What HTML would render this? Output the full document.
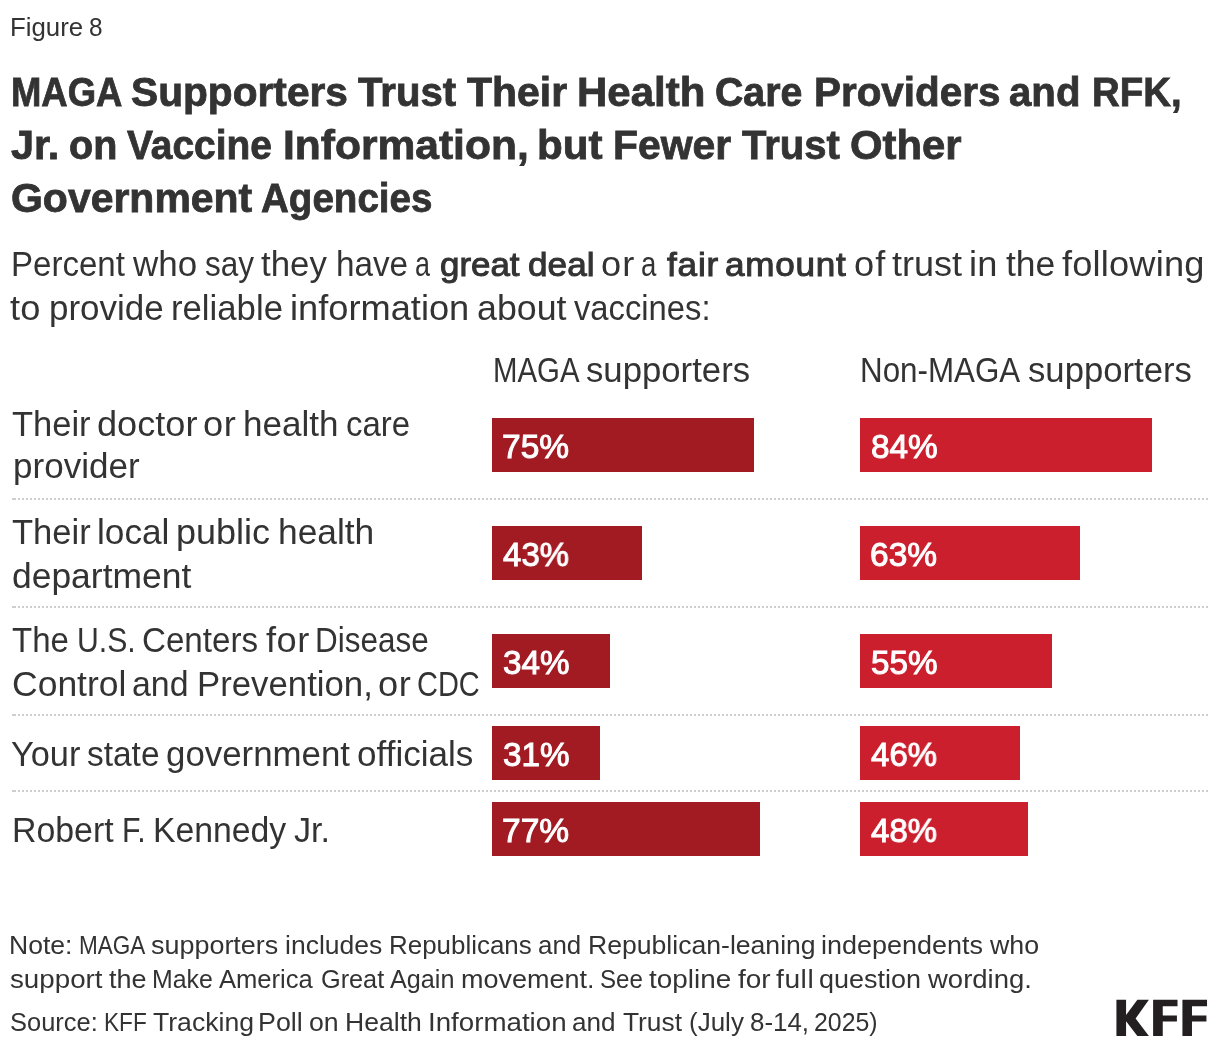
<!DOCTYPE html>
<html><head><meta charset="utf-8"><title>Figure 8</title>
<style>
html,body{margin:0;padding:0;background:#fff}
body{width:1220px;height:1050px;position:relative;overflow:hidden;font-family:"Liberation Sans",sans-serif;color:#333}
.l{position:absolute;left:0;width:1220px;height:0;line-height:0;white-space:nowrap;will-change:transform}
.l span{position:absolute;top:0;display:block;line-height:0;white-space:nowrap;transform-origin:0 0}
.w{color:#fff}
.b7{font-weight:700;-webkit-text-stroke:0.8px currentColor}
.b6{-webkit-text-stroke:1.0px currentColor}
.b{position:absolute;height:54px}
.s{position:absolute;left:12px;width:1196px;height:2px;background:linear-gradient(#cecece,#cecece) 0 0/2px 2px no-repeat,repeating-linear-gradient(90deg,#cecece 0,#cecece 2px,transparent 2px,transparent 4px) 2px 0}
.logo{position:absolute;left:0;top:0}
</style></head><body>
<div class="b" style="left:492px;top:418px;width:262px;background:#a21a22"></div>
<div class="b" style="left:860px;top:418px;width:292px;background:#cb1f2d"></div>
<div class="b" style="left:492px;top:526px;width:150px;background:#a21a22"></div>
<div class="b" style="left:860px;top:526px;width:220px;background:#cb1f2d"></div>
<div class="b" style="left:492px;top:634px;width:118px;background:#a21a22"></div>
<div class="b" style="left:860px;top:634px;width:192px;background:#cb1f2d"></div>
<div class="b" style="left:492px;top:726px;width:108px;background:#a21a22"></div>
<div class="b" style="left:860px;top:726px;width:160px;background:#cb1f2d"></div>
<div class="b" style="left:492px;top:802px;width:268px;background:#a21a22"></div>
<div class="b" style="left:860px;top:802px;width:168px;background:#cb1f2d"></div>
<div class="s" style="top:498px"></div>
<div class="s" style="top:606px"></div>
<div class="s" style="top:714px"></div>
<div class="s" style="top:790px"></div>
<div class="l" style="top:26.90px;font-size:26.6px"><span style="left:10.02px;transform:scaleX(0.9708)">Figure</span> <span style="left:89.41px;transform:scaleX(0.9154)">8</span></div>
<div class="l" style="top:91.90px;font-size:41.8px"><span style="left:11.04px;transform:scaleX(0.8942);font-size:40.75px" class="b7">MAGA</span> <span style="left:131.16px;transform:scaleX(0.9981);font-size:40.75px" class="b7">Supporters</span> <span style="left:357.50px;transform:scaleX(0.9849);font-size:40.75px" class="b7">Trust</span> <span style="left:466.50px;transform:scaleX(1.0045);font-size:40.75px" class="b7">Their</span> <span style="left:577.06px;transform:scaleX(1.0301);font-size:40.75px" class="b7">Health</span> <span style="left:715.42px;transform:scaleX(0.9640);font-size:40.75px" class="b7">Care</span> <span style="left:813.52px;transform:scaleX(0.9918);font-size:40.75px" class="b7">Providers</span> <span style="left:1009.45px;transform:scaleX(0.9863);font-size:40.75px" class="b7">and</span> <span style="left:1091.88px;transform:scaleX(0.9420);font-size:40.75px" class="b7">RFK,</span></div>
<div class="l" style="top:144.85px;font-size:41.8px"><span style="left:10.93px;transform:scaleX(1.0165);font-size:40.75px" class="b7">Jr.</span> <span style="left:68.79px;transform:scaleX(0.9710);font-size:40.75px" class="b7">on</span> <span style="left:126.68px;transform:scaleX(0.9551);font-size:40.75px" class="b7">Vaccine</span> <span style="left:282.53px;transform:scaleX(1.0436);font-size:40.75px" class="b7">Information,</span> <span style="left:536.86px;transform:scaleX(1.0344);font-size:40.75px" class="b7">but</span> <span style="left:613.49px;transform:scaleX(1.0030);font-size:40.75px" class="b7">Fewer</span> <span style="left:741.81px;transform:scaleX(0.9827);font-size:40.75px" class="b7">Trust</span> <span style="left:850.28px;transform:scaleX(1.0268);font-size:40.75px" class="b7">Other</span></div>
<div class="l" style="top:197.80px;font-size:41.8px"><span style="left:10.74px;transform:scaleX(1.0051);font-size:40.75px" class="b7">Government</span> <span style="left:261.21px;transform:scaleX(0.9464);font-size:40.75px" class="b7">Agencies</span></div>
<div class="l" style="top:263.90px;font-size:34.2px"><span style="left:10.95px;transform:scaleX(0.9670)">Percent</span> <span style="left:132.85px;transform:scaleX(1.0214)">who</span> <span style="left:204.70px;transform:scaleX(0.9218)">say</span> <span style="left:261.49px;transform:scaleX(1.0184)">they</span> <span style="left:335.69px;transform:scaleX(0.9723)">have</span> <span style="left:415.22px;transform:scaleX(0.7885)">a</span> <span style="left:440.18px;transform:scaleX(1.0536);top:1px;font-size:33.11px" class="b6">great</span> <span style="left:527.90px;transform:scaleX(1.0600);top:1px;letter-spacing:0.10px;font-size:33.11px" class="b6">deal</span> <span style="left:601.22px;transform:scaleX(1.0600);letter-spacing:1.01px">or</span> <span style="left:640.94px;transform:scaleX(0.8070)">a</span> <span style="left:666.80px;transform:scaleX(1.0600);top:1px;letter-spacing:0.77px;font-size:33.11px" class="b6">fair</span> <span style="left:725.27px;transform:scaleX(1.0600);top:1px;letter-spacing:0.69px;font-size:33.11px" class="b6">amount</span> <span style="left:854.01px;transform:scaleX(1.0600);letter-spacing:1.12px">of</span> <span style="left:892.15px;transform:scaleX(1.0546)">trust</span> <span style="left:969.43px;transform:scaleX(1.0600);letter-spacing:0.20px">in</span> <span style="left:1005.98px;transform:scaleX(1.0368)">the</span> <span style="left:1062.28px;transform:scaleX(1.0600);letter-spacing:0.16px">following</span></div>
<div class="l" style="top:307.80px;font-size:34.2px"><span style="left:10.22px;transform:scaleX(1.0600);letter-spacing:0.24px">to</span> <span style="left:48.76px;transform:scaleX(1.0235)">provide</span> <span style="left:171.00px;transform:scaleX(1.0156)">reliable</span> <span style="left:290.03px;transform:scaleX(1.0599)">information</span> <span style="left:477.16px;transform:scaleX(1.0457)">about</span> <span style="left:573.77px;transform:scaleX(0.9579)">vaccines:</span></div>
<div class="l" style="top:369.70px;font-size:34.2px"><span style="left:492.70px;transform:scaleX(0.8589)">MAGA</span> <span style="left:586.47px;transform:scaleX(1.0158)">supporters</span></div>
<div class="l" style="top:369.70px;font-size:34.2px"><span style="left:860.32px;transform:scaleX(0.9167)">Non-MAGA</span> <span style="left:1027.97px;transform:scaleX(1.0147)">supporters</span></div>
<div class="l" style="top:423.80px;font-size:34.2px"><span style="left:12.32px;transform:scaleX(1.0088)">Their</span> <span style="left:96.88px;transform:scaleX(1.0572)">doctor</span> <span style="left:203.41px;transform:scaleX(1.0600);letter-spacing:0.58px">or</span> <span style="left:242.69px;transform:scaleX(1.0247)">health</span> <span style="left:346.24px;transform:scaleX(0.9636)">care</span></div>
<div class="l" style="top:465.70px;font-size:34.2px"><span style="left:12.69px;transform:scaleX(1.0248)">provider</span></div>
<div class="l" style="top:531.80px;font-size:34.2px"><span style="left:12.13px;transform:scaleX(1.0096)">Their</span> <span style="left:97.27px;transform:scaleX(1.0301)">local</span> <span style="left:176.19px;transform:scaleX(1.0532)">public</span> <span style="left:277.61px;transform:scaleX(1.0331)">health</span></div>
<div class="l" style="top:575.80px;font-size:34.2px"><span style="left:12.20px;transform:scaleX(1.0365)">department</span></div>
<div class="l" style="top:639.80px;font-size:34.2px"><span style="left:12.23px;transform:scaleX(0.9648)">The</span> <span style="left:76.78px;transform:scaleX(0.8830)">U.S.</span> <span style="left:142.49px;transform:scaleX(0.9695)">Centers</span> <span style="left:265.60px;transform:scaleX(1.0600);letter-spacing:0.48px">for</span> <span style="left:315.28px;transform:scaleX(0.9203)">Disease</span></div>
<div class="l" style="top:683.80px;font-size:34.2px"><span style="left:11.72px;transform:scaleX(1.0383)">Control</span> <span style="left:132.31px;transform:scaleX(0.9900)">and</span> <span style="left:196.84px;transform:scaleX(1.0167)">Prevention,</span> <span style="left:378.32px;transform:scaleX(1.0600);letter-spacing:0.59px">or</span> <span style="left:417.20px;transform:scaleX(0.8477)">CDC</span></div>
<div class="l" style="top:753.70px;font-size:34.2px"><span style="left:11.35px;transform:scaleX(1.0049)">Your</span> <span style="left:86.66px;transform:scaleX(0.9782)">state</span> <span style="left:166.22px;transform:scaleX(1.0194)">government</span> <span style="left:357.40px;transform:scaleX(1.0265)">officials</span></div>
<div class="l" style="top:829.70px;font-size:34.2px"><span style="left:12.21px;transform:scaleX(0.9905)">Robert</span> <span style="left:121.56px;transform:scaleX(0.8884)">F.</span> <span style="left:152.60px;transform:scaleX(0.9870)">Kennedy</span> <span style="left:294.11px;transform:scaleX(0.9992)">Jr.</span></div>
<div class="l" style="top:944.80px;font-size:26.6px"><span style="left:9.44px;transform:scaleX(0.9985)">Note:</span> <span style="left:78.97px;transform:scaleX(0.8463)">MAGA</span> <span style="left:151.17px;transform:scaleX(1.0128)">supporters</span> <span style="left:284.92px;transform:scaleX(0.9969)">includes</span> <span style="left:388.54px;transform:scaleX(0.9750)">Republicans</span> <span style="left:537.91px;transform:scaleX(0.9737)">and</span> <span style="left:588.44px;transform:scaleX(0.9998)">Republican-leaning</span> <span style="left:820.85px;transform:scaleX(1.0137)">independents</span> <span style="left:989.75px;transform:scaleX(1.0079)">who</span></div>
<div class="l" style="top:978.60px;font-size:26.6px"><span style="left:10.16px;transform:scaleX(1.0427)">support</span> <span style="left:108.62px;transform:scaleX(1.0143)">the</span> <span style="left:152.46px;transform:scaleX(0.9354)">Make</span> <span style="left:219.38px;transform:scaleX(0.9618)">America</span> <span style="left:321.44px;transform:scaleX(0.9501)">Great</span> <span style="left:390.31px;transform:scaleX(0.9474)">Again</span> <span style="left:461.22px;transform:scaleX(1.0147)">movement.</span> <span style="left:599.99px;transform:scaleX(0.9062)">See</span> <span style="left:649.16px;transform:scaleX(1.0480)">topline</span> <span style="left:737.54px;transform:scaleX(1.0513)">for</span> <span style="left:775.97px;transform:scaleX(1.0600);letter-spacing:0.52px">full</span> <span style="left:819.05px;transform:scaleX(1.0141)">question</span> <span style="left:927.70px;transform:scaleX(1.0334)">wording.</span></div>
<div class="l" style="top:1022.10px;font-size:26.6px"><span style="left:10.05px;transform:scaleX(0.9570)">Source:</span> <span style="left:103.71px;transform:scaleX(0.8505)">KFF</span> <span style="left:152.75px;transform:scaleX(0.9996)">Tracking</span> <span style="left:258.42px;transform:scaleX(1.0088)">Poll</span> <span style="left:308.56px;transform:scaleX(1.0034)">on</span> <span style="left:344.69px;transform:scaleX(0.9988)">Health</span> <span style="left:427.52px;transform:scaleX(1.0416)">Information</span> <span style="left:572.27px;transform:scaleX(0.9819)">and</span> <span style="left:623.26px;transform:scaleX(0.9891)">Trust</span> <span style="left:688.66px;transform:scaleX(0.9778)">(July</span> <span style="left:749.78px;transform:scaleX(0.9740)">8-14,</span> <span style="left:813.89px;transform:scaleX(0.9358)">2025)</span></div>
<div class="l w" style="top:446.30px;font-size:34.2px"><span style="left:502.34px;transform:scaleX(1.0117);top:1px;font-size:33.11px" class="b6">75%</span></div>
<div class="l w" style="top:554.30px;font-size:34.2px"><span style="left:503.35px;transform:scaleX(0.9962);top:1px;font-size:33.11px" class="b6">43%</span></div>
<div class="l w" style="top:662.30px;font-size:34.2px"><span style="left:502.85px;transform:scaleX(1.0039);top:1px;font-size:33.11px" class="b6">34%</span></div>
<div class="l w" style="top:754.30px;font-size:34.2px"><span style="left:502.85px;transform:scaleX(1.0039);top:1px;font-size:33.11px" class="b6">31%</span></div>
<div class="l w" style="top:830.30px;font-size:34.2px"><span style="left:502.34px;transform:scaleX(1.0117);top:1px;font-size:33.11px" class="b6">77%</span></div>
<div class="l w" style="top:446.30px;font-size:34.2px"><span style="left:870.59px;transform:scaleX(1.0078);top:1px;font-size:33.11px" class="b6">84%</span></div>
<div class="l w" style="top:554.30px;font-size:34.2px"><span style="left:870.34px;transform:scaleX(1.0117);top:1px;font-size:33.11px" class="b6">63%</span></div>
<div class="l w" style="top:662.30px;font-size:34.2px"><span style="left:870.85px;transform:scaleX(1.0039);top:1px;font-size:33.11px" class="b6">55%</span></div>
<div class="l w" style="top:754.30px;font-size:34.2px"><span style="left:871.35px;transform:scaleX(0.9962);top:1px;font-size:33.11px" class="b6">46%</span></div>
<div class="l w" style="top:830.30px;font-size:34.2px"><span style="left:871.35px;transform:scaleX(0.9962);top:1px;font-size:33.11px" class="b6">48%</span></div>
<svg class="logo" width="1220" height="1050" viewBox="0 0 1220 1050"><g fill="#231f20">
<polygon points="1116.43,999.84 1126.07,999.84 1126.07,1015.08 1137.38,999.84 1148.89,999.84 1135.61,1018.52 1148.89,1035.93 1137.38,1035.93 1126.07,1021.28 1126.07,1035.93 1116.43,1035.93"/>
<polygon points="1153.11,999.84 1177.51,999.84 1177.51,1006.23 1162.75,1006.23 1162.75,1015.38 1176.92,1015.38 1176.92,1021.48 1162.75,1021.48 1162.75,1035.93 1153.11,1035.93"/>
<polygon points="1182.43,999.84 1207.02,999.84 1207.02,1006.23 1191.97,1006.23 1191.97,1015.38 1206.43,1015.38 1206.43,1021.48 1191.97,1021.48 1191.97,1035.93 1182.43,1035.93"/>
</g></svg>
</body></html>
